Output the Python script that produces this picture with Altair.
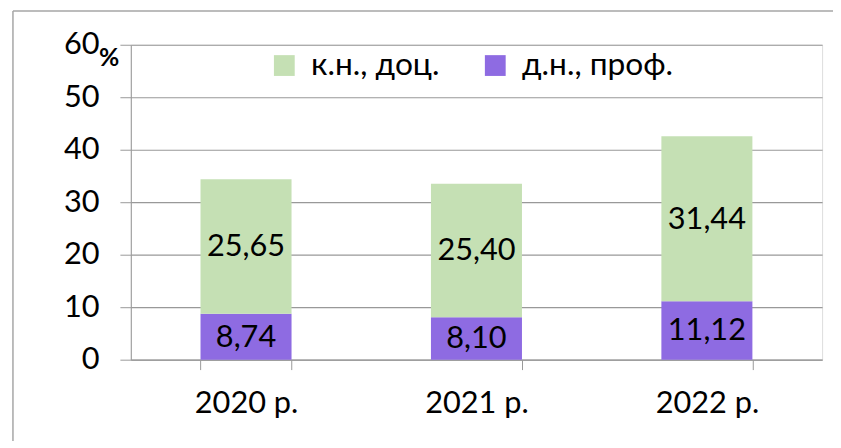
import altair as alt
import pandas as pd

years = ["2020 р.", "2021 р.", "2022 р."]
series = ["к.н., доц.", "д.н., проф."]
kn_doc = [25.65, 25.40, 31.44]
dn_prof = [8.74, 8.10, 11.12]
colors = ["#C5E0B4", "#8E6BE2"]
y_ticks = [0, 10, 20, 30, 40, 50, 60]

rows = []
for i, yr in enumerate(years):
    rows.append({"year": yr, "series": series[1], "value": dn_prof[i], "ord": 0})
    rows.append({"year": yr, "series": series[0], "value": kn_doc[i], "ord": 1})
df = pd.DataFrame(rows)

FONT = "Lato"
W, H = 698, 318

xenc = alt.X("year:N", sort=years,
             scale=alt.Scale(paddingInner=0.605, paddingOuter=0.3025),
             axis=alt.Axis(title=None, labelAngle=0, labelFontSize=31, labelPadding=19,
                           tickSize=10, tickBand="extent", domainColor="#999999",
                           tickColor="#999999", labelColor="#000000", labelFont=FONT))
yscale = alt.Scale(domain=[0, 60], nice=False)

base = alt.Chart(df).transform_stack(
    stack="value", groupby=["year"], as_=["y0", "y1"],
    sort=[alt.SortField("ord", order="ascending")]
).transform_calculate(
    mid="(datum.y0 + datum.y1) / 2",
    label="replace(format(datum.value, '.2f'), '.', ',')"
)

bars = base.mark_bar().encode(
    x=xenc,
    y=alt.Y("y0:Q", scale=yscale,
            axis=alt.Axis(title=None, values=y_ticks, labelFontSize=31, labelPadding=21,
                          tickSize=11, grid=True, gridColor="#999999", gridWidth=1.2,
                          domainColor="#999999", tickColor="#999999", labelColor="#000000",
                          labelFont=FONT)),
    y2="y1:Q",
    color=alt.Color("series:N", scale=alt.Scale(domain=series, range=colors),
                    legend=alt.Legend(title=None, orient="none", legendX=139, legendY=5,
                                      direction="horizontal", symbolType="square",
                                      symbolSize=441, symbolStrokeWidth=0, labelFontSize=32,
                                      labelFont=FONT, labelColor="#000000", labelOffset=11,
                                      columnPadding=40, padding=0)),
)

labels = base.mark_text(fontSize=31, font=FONT, color="#000000", baseline="middle", dy=1).encode(
    x=alt.X("year:N", sort=years),
    y=alt.Y("mid:Q", scale=yscale),
    text="label:N",
)

pct = alt.Chart(pd.DataFrame({"t": ["%"]})).mark_text(
    fontSize=25, fontWeight="bold", font=FONT, color="#000000", align="left", baseline="middle"
).encode(x=alt.value(-32), y=alt.value(13), text="t:N")

frame_top = alt.Chart(pd.DataFrame({"a": [0]})).mark_rule(color="#A6A6A6", strokeWidth=1.5).encode(
    x=alt.value(-119), x2=alt.value(713), y=alt.value(-34))
frame_left = alt.Chart(pd.DataFrame({"a": [0]})).mark_rule(color="#A6A6A6", strokeWidth=1.5).encode(
    x=alt.value(-119), y=alt.value(-34), y2=alt.value(410))

chart = alt.layer(bars, labels, pct, frame_top, frame_left).properties(
    width=W, height=H,
    autosize=alt.AutoSizeParams(type="none"),
    padding={"left": 124, "top": 35, "right": 11, "bottom": 80},
).configure_view(stroke=None).configure(font=FONT, background="white")

chart.save("out.html", embed_options={"renderer": "svg", "actions": False})
